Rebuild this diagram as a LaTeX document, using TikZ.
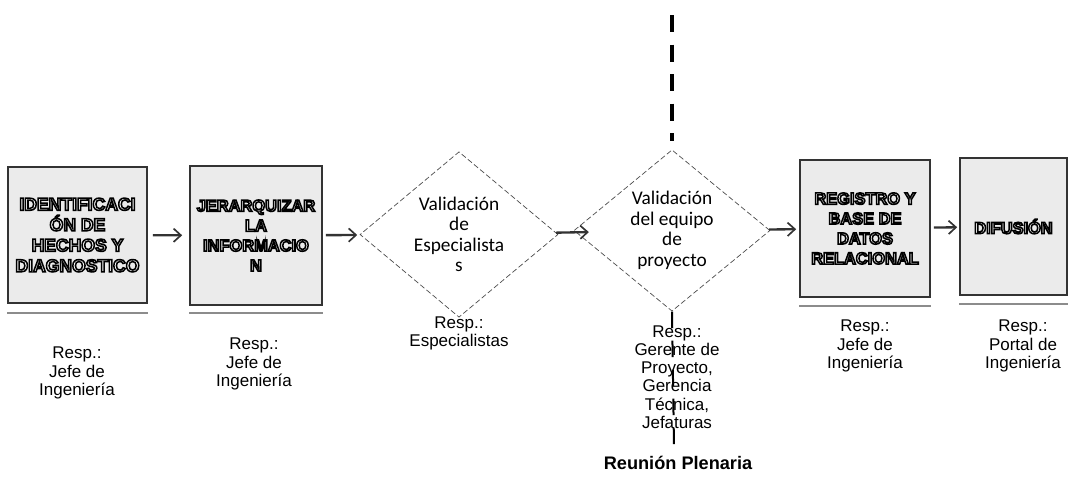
\documentclass[tikz,border=0pt]{standalone}
\usepackage{fontspec}
\setmainfont{Liberation Sans}
\newfontfamily\calibri{Carlito}
\usepackage{tikz}
\usetikzlibrary{positioning,shapes.geometric,arrows.meta,calc}
% white letters with a black outline (text render mode 2)
\newcommand{\hollow}[1]{{\color{white}\special{pdf:literal direct 0 G 1.3 w 2 Tr}#1\special{pdf:literal direct 0 Tr}}}
\tikzset{
  stage/.style={rectangle, draw=black!80, line width=0.05cm, fill=black!8, inner sep=0pt, align=center, font=\fontsize{14pt}{17pt}\selectfont\bfseries},
  check/.style={diamond, draw=black!70, dash pattern=on 0.16cm off 0.08cm, line width=0.6pt, inner sep=0pt, align=center, font=\calibri\fontsize{16.5pt}{17.5pt}\selectfont},
  resp/.style={align=center, inner sep=0pt, font=\fontsize{14.5pt}{15.5pt}\selectfont},
  arrow/.style={line width=0.07cm, draw=black!80, -{Straight Barb[length=0.22cm, width=0.4cm, line width=0.05cm]}},
  shadowline/.style={draw=black!45, line width=0.04cm},
  plenary/.style={line width=0.1cm, dash pattern=on 0.51cm off 0.375cm}
}

\begin{document}
\begin{tikzpicture}[x=0.03cm, y=-0.03cm]
  \useasboundingbox (0,0) rectangle (1068,497);

  % Nodes
  \node (b1) [stage, minimum width=4.17cm, minimum height=4.08cm, font=\fontsize{15pt}{17.5pt}\selectfont\bfseries] at (77.5,235)
    {\hollow{IDENTIFICACI}\\\hollow{ÓN DE}\\\hollow{HECHOS Y}\\\hollow{DIAGNOSTICO}};
  \node (b2) [stage, minimum width=3.96cm, minimum height=4.17cm] at (256,235.5)
    {\hollow{JERARQUIZAR}\\\hollow{LA}\\\hollow{INFORMACIO}\\\hollow{N}};
  \node (d1) [check, minimum width=5.94cm, minimum height=4.35cm] at (459,234.5)
    {Validación\\de\\Especialista\\s};
  \node (d2) [check, minimum width=5.88cm, minimum height=4.35cm] at (672,230.5)
    {Validación\\del equipo\\de\\proyecto};
  \node (b3) [stage, minimum width=3.9cm, minimum height=4.11cm] at (865,228.5)
    {\hollow{REGISTRO Y}\\\hollow{BASE DE}\\\hollow{DATOS}\\\hollow{RELACIONAL}};
  \node (b4) [stage, minimum width=3.21cm, minimum height=4.11cm] at (1013.5,226.5)
    {\hollow{DIFUSIÓN}};

  % Shadow edges under the boxes
  \foreach \b/\d in {b1/9, b2/7, b3/8, b4/8}
    \draw [shadowline] ($(\b.south west)+(0,\d)$) -- ($(\b.south east)+(0,\d)$);

  % Arrows
  \draw [arrow, shorten <=0.15cm, shorten >=0.21cm] (b1) -- (b2);
  \draw [arrow, shorten <=0.09cm, shorten >=0.09cm] (b2) -- (d1);
  \draw [arrow, shorten >=-0.39cm] (d1) -- (d2);
  \draw [arrow, shorten >=0.09cm] (d2) -- (b3);
  \draw [arrow, shorten <=0.09cm, shorten >=0.06cm] (b3) -- (b4);

  % Plenary line
  \coordinate (top) at (672,15);
  \coordinate (bottom) at (674,447);
  \draw [plenary, shorten >=0.24cm] (top) -- (d2.north);
  \draw [plenary, line width=0.06cm, dash pattern=on 0.5cm off 0.37cm] (d2.south) -- (bottom);

  % Annotations
  \node (r1) [resp] at (77,373) {Resp.:\\Jefe de\\Ingeniería};
  \node (r2) [resp] at (254,364) {Resp.:\\Jefe de\\Ingeniería};
  \node (r3) [resp] at (459,333) {Resp.:\\Especialistas};
  \node (r4) [resp] at (677,377) {Resp.:\\Gerente de\\Proyecto,\\Gerencia\\Técnica,\\Jefaturas};
  \node (r5) [resp] at (865,346) {Resp.:\\Jefe de\\Ingeniería};
  \node (r6) [resp] at (1023,346) {Resp.:\\Portal de\\Ingeniería};
  \node (plen) [font=\fontsize{15.5pt}{18pt}\selectfont\bfseries] at (678,463) {Reunión Plenaria};
\end{tikzpicture}
\end{document}
